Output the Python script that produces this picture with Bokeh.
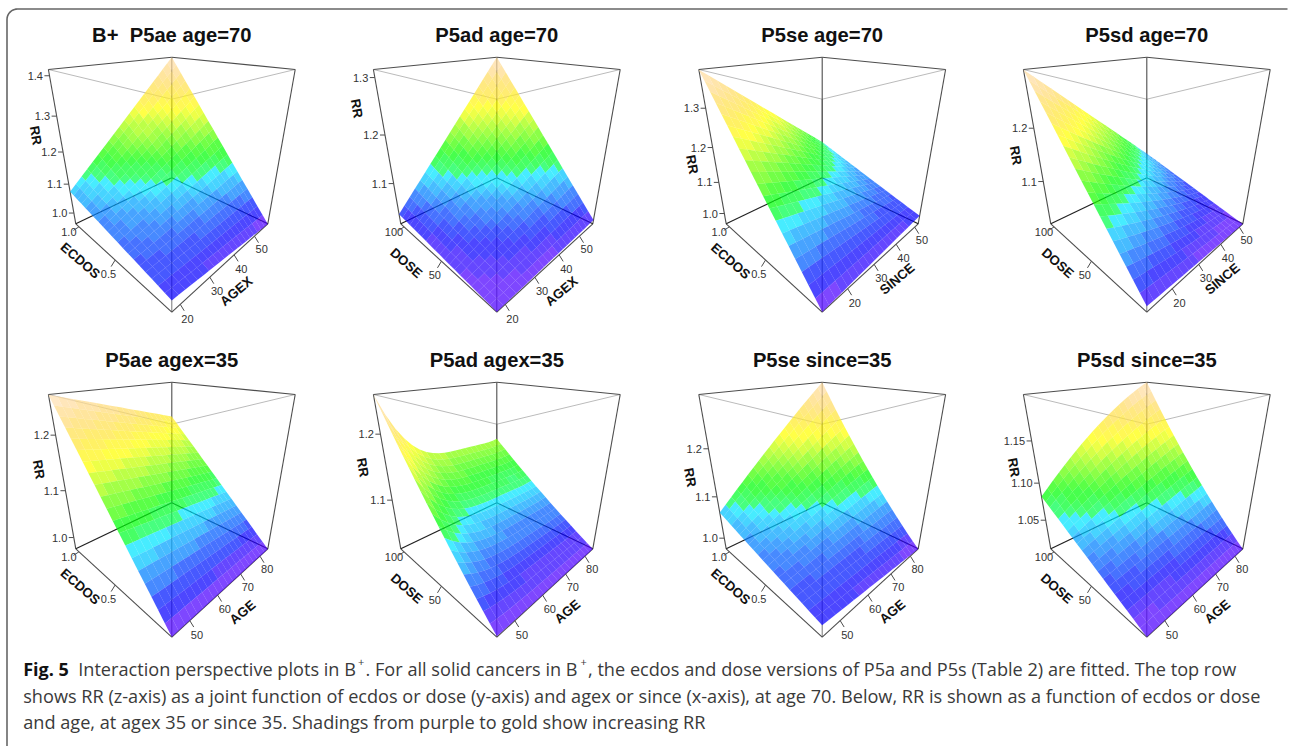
import colorsys
import numpy as np
from bokeh.plotting import figure
from bokeh.models import Range1d, ColumnDataSource
from bokeh.core.properties import value
from bokeh.embed import file_html
from bokeh.resources import INLINE

# ---- chart values ----
TITLES = ["B+\u00a0 P5ae age=70", "P5ad age=70", "P5se age=70", "P5sd age=70",
          "P5ae agex=35", "P5ad agex=35", "P5se since=35", "P5sd since=35"]
Y_NAMES = ["ECDOS", "DOSE", "ECDOS", "DOSE", "ECDOS", "DOSE", "ECDOS", "DOSE"]
X_NAMES = ["AGEX", "AGEX", "SINCE", "SINCE", "AGE", "AGE", "AGE", "AGE"]
RR_TICKS = [[1.0, 1.1, 1.2, 1.3, 1.4], [1.1, 1.2, 1.3], [1.0, 1.1, 1.2, 1.3], [1.1, 1.2],
            [1.0, 1.1, 1.2], [1.1, 1.2], [1.0, 1.1, 1.2], [1.05, 1.10, 1.15]]
RR_LIMITS = [(0.959, 1.414), (1.0028, 1.3124), (0.9634, 1.387), (1.006, 1.292),
             (0.9727, 1.2627), (1.010, 1.2507), (0.971, 1.296), (1.0062, 1.1978)]
X_TICKS = {"AGEX": [20, 30, 40, 50], "SINCE": [20, 30, 40, 50], "AGE": [50, 60, 70, 80]}
Y_TICKS = {"ECDOS": [0.5, 1.0], "DOSE": [50, 100]}
X_LIMITS = {"AGEX": (17.5, 57.5), "SINCE": (12, 52), "AGE": (44.5, 84.5)}
Y_LIMITS = {"ECDOS": (-0.05, 1.05), "DOSE": (-2, 105)}

# RR read at a few points of each surface: rows go along the y variable, columns along the x variable
AGEX_3 = [17.5, 37.5, 57.5]
SINCE_3 = [12, 32, 52]
AGE_3 = [44.5, 64.5, 84.5]
AGE_6 = [44.5, 49.5, 54.5, 64.5, 74.5, 84.5]
ECDOS_3 = [-0.05, 0.5, 1.05]
DOSE_3 = [-2, 51.5, 105]
RR_P5AE_AGE70 = [[0.9945, 0.977, 0.959], [1.035, 1.109, 1.186], [1.075, 1.244, 1.414]]
RR_P5AD_AGE70 = [[1.003, 1.008, 1.013], [1.0155, 1.0895, 1.1625], [1.028, 1.170, 1.3124]]
RR_P5SE_AGE70 = [[0.9634, 0.978, 0.992], [1.175, 1.112, 1.048], [1.387, 1.246, 1.105]]
RR_P5SD_AGE70 = [[1.017, 1.011, 1.006], [1.1546, 1.089, 1.039], [1.292, 1.182, 1.0717]]
RR_P5AE_AGEX35 = [[0.9727, 0.9727, 0.9727], [1.118, 1.100, 1.082], [1.2627, 1.2267, 1.1907]]
RR_P5AD_AGEX35 = [[1.011, 1.0105, 1.0103, 1.0102, 1.0101, 1.010],
                  [1.1231, 1.0966, 1.0822, 1.075, 1.0738, 1.075],
                  [1.2507, 1.1962, 1.1642, 1.1498, 1.1469, 1.1486]]
RR_P5SE_SINCE35 = [[0.9965, 0.984, 0.971], [1.0294, 1.075, 1.117], [1.0635, 1.185, 1.296]]
RR_P5SD_SINCE35 = [[1.0062, 1.0062, 1.0062], [1.0443, 1.0694, 1.0924], [1.0826, 1.1518, 1.1978]]
SURFACES = [(AGEX_3, ECDOS_3, RR_P5AE_AGE70), (AGEX_3, DOSE_3, RR_P5AD_AGE70),
            (SINCE_3, ECDOS_3, RR_P5SE_AGE70), (SINCE_3, DOSE_3, RR_P5SD_AGE70),
            (AGE_3, ECDOS_3, RR_P5AE_AGEX35), (AGE_6, DOSE_3, RR_P5AD_AGEX35),
            (AGE_3, ECDOS_3, RR_P5SE_SINCE35), (AGE_3, DOSE_3, RR_P5SD_SINCE35)]

# ---- page layout ----
CENTERS = [171.3, 496.3, 821.7, 1146.3]
ROW_SHIFT = 325
RR_LABEL_POS = [(-136, 135), (-140, 108), (-130, 164), (-131, 155),
                (-133, 144), (-134, 142), (-132, 152), (-133, 142)]
Y_LABEL_POS = [(-91.5, 260), (-90.5, 262.5), (-91.5, 260.5), (-89, 262.5),
               (-91.5, 261), (-90, 263), (-91.5, 261), (-90, 263)]
X_LABEL_POS = [(64.5, 290.7), (64.7, 290.7), (75, 278.3), (75.5, 278.3),
               (70.7, 286.7), (70.5, 286), (70.2, 286), (70.5, 286)]
N_CELLS = 20
N_COL = 30
SURF_ALPHA = 0.72
HELV = value("Liberation Sans")
CAP = value("Open Sans")
CAP_SIZE = 18.15

# camera: fitted to the eight corners of the drawn box
CUBE = [(0, 0, 0), (1, 0, 0), (0, 1, 0), (1, 1, 0), (0, 0, 1), (1, 0, 1), (0, 1, 1), (1, 1, 1)]
SCREEN = [(0, 311.7), (96, 223.3), (-96, 223.3), (0, 177.3), (0, 98.7), (123.4, 69), (-123.4, 69), (0, 56.7)]
A = []
for (a, b, c), (sx, sy) in zip(CUBE, SCREEN):
    A.append([a, b, c, 1, 0, 0, 0, 0, -sx * a, -sx * b, -sx * c, -sx])
    A.append([0, 0, 0, 0, a, b, c, 1, -sy * a, -sy * b, -sy * c, -sy])
M = np.linalg.svd(np.array(A, float))[2][-1].reshape(3, 4)


def proj(u, v, w):
    u, v, w = np.asarray(u, float), np.asarray(v, float), np.asarray(w, float)
    h = M[2, 0] * u + M[2, 1] * v + M[2, 2] * w + M[2, 3]
    return ((M[0, 0] * u + M[0, 1] * v + M[0, 2] * w + M[0, 3]) / h,
            (M[1, 0] * u + M[1, 1] * v + M[1, 2] * w + M[1, 3]) / h)


def topo(n):
    j = n // 3
    k = n // 3
    i = n - j - k
    out = []
    for q in range(i):
        out.append(colorsys.hsv_to_rgb((43 + (31 - 43) * q / max(i - 1, 1)) / 60, 1, 1))
    for q in range(j):
        out.append(colorsys.hsv_to_rgb((23 + (11 - 23) * q / max(j - 1, 1)) / 60, 1, 1))
    for q in range(k):
        f = q / max(k - 1, 1)
        out.append(colorsys.hsv_to_rgb((10 - 4 * f) / 60, 1 - 0.7 * f, 1))
    return ["#%02x%02x%02x" % tuple(int(round(c * 255)) for c in rgb) for rgb in out]


def smooth(knots, vals, at):
    # smooth curve through the values read at the knots, for drawing the cells of the mesh
    return np.polyval(np.polyfit(knots, vals, min(len(knots) - 1, 4)), at)


COLORS = topo(N_COL)

p = figure(width=1289, height=746, output_backend="svg", toolbar_location=None,
           x_range=Range1d(0, 1289), y_range=Range1d(746, 0), min_border=0)
p.axis.visible = False
p.grid.visible = False
p.outline_line_color = None

# outer frame with a rounded corner
ang = np.linspace(np.pi, 1.5 * np.pi, 12)
fx = [6.5] + list(17 + 10.5 * np.cos(ang)) + [1287]
fy = [746] + list(19 + 10.5 * np.sin(ang)) + [8.5]
p.line(fx, fy, line_color="#666666", line_width=1.6)


def text(x, y, s, size, font=HELV, color="#333333", style="normal", align="center", base="middle", angle=0):
    p.text([x], [y], text=[s], text_font=font, text_font_size=f"{size}px", text_color=color,
           text_font_style=style, text_align=align, text_baseline=base, angle=angle, angle_units="deg")


for idx in range(8):
    cx = CENTERS[idx % 4]
    cy = 0 if idx < 4 else ROW_SHIFT
    rmin, rmax = RR_LIMITS[idx]
    xname, yname = X_NAMES[idx], Y_NAMES[idx]
    xlim, ylim = X_LIMITS[xname], Y_LIMITS[yname]
    S = dict(zip(CUBE, SCREEN))

    def P(c):
        return S[c][0] + cx, S[c][1] + cy

    dark_edges = [((1, 1, 1), (0, 1, 1)), ((1, 1, 1), (1, 0, 1)), ((1, 1, 1), (1, 1, 0)),
                  ((0, 1, 1), (0, 1, 0)), ((1, 0, 1), (1, 0, 0)),
                  ((0, 0, 0), (1, 0, 0)), ((0, 0, 0), (0, 1, 0))]
    floor_edges = [((1, 1, 0), (0, 1, 0)), ((1, 1, 0), (1, 0, 0))]
    light_edges = [((0, 0, 1), (0, 1, 1)), ((0, 0, 1), (1, 0, 1))]
    mid_edges = [((0, 0, 1), (0, 0, 0))]
    for edges, col, wid in ((light_edges, "#bbbbbb", 1), (mid_edges, "#777777", 1),
                            (dark_edges, "#4d4d4d", 1.1), (floor_edges, "#222222", 1.2)):
        p.multi_line([[P(a)[0], P(b)[0]] for a, b in edges], [[P(a)[1], P(b)[1]] for a, b in edges],
                     line_color=col, line_width=wid)

    # surface
    xk, yk, rr = SURFACES[idx]
    rr = np.array(rr, float)
    us = np.linspace(0, 1, N_CELLS + 1)
    vs = np.linspace(0, 1, N_CELLS + 1)
    xv = xlim[0] + us * (xlim[1] - xlim[0])
    yv = ylim[0] + vs * (ylim[1] - ylim[0])
    by_x = np.array([smooth(xk, row, xv) for row in rr])
    z = np.array([smooth(yk, by_x[:, c], yv) for c in range(N_CELLS + 1)]).T  # z[v, u]
    w = (z - rmin) / (rmax - rmin)
    uu, vv = np.meshgrid(us, vs)
    sx, sy = proj(uu, vv, w)
    xs, ys, cols = [], [], []
    order = sorted(((a, b) for a in range(N_CELLS) for b in range(N_CELLS)), key=lambda t: -(t[0] + t[1]))
    for a, b in order:
        xs.append((sx[[a, a, a + 1, a + 1], [b, b + 1, b + 1, b]] + cx).tolist())
        ys.append((sy[[a, a, a + 1, a + 1], [b, b + 1, b + 1, b]] + cy).tolist())
        m = (w[a, b] + w[a, b + 1] + w[a + 1, b] + w[a + 1, b + 1]) / 4
        cols.append(COLORS[min(N_COL - 1, max(0, int(m * N_COL)))])
    p.patches("xs", "ys", source=ColumnDataSource(dict(xs=xs, ys=ys, c=cols)), fill_color="c",
              fill_alpha=SURF_ALPHA, line_color=None)

    # title
    text(cx, 34 + cy, TITLES[idx], 20.2, color="#111111", style="bold")

    # RR axis
    tx, ty = [], []
    for r in RR_TICKS[idx]:
        ex, ey = proj(0, 1, (r - rmin) / (rmax - rmin))
        ex, ey = float(ex) + cx, float(ey) + cy
        tx.append([ex, ex - 5])
        ty.append([ey, ey])
        text(ex - 6.5, ey, f"{r:.2f}" if idx == 7 else f"{r:.1f}", 11, align="right")
    # x axis
    for t in X_TICKS[xname]:
        u = (t - xlim[0]) / (xlim[1] - xlim[0])
        ex, ey = proj(u, 0, 0)
        ex, ey = float(ex) + cx, float(ey) + cy
        tx.append([ex, ex + 4])
        ty.append([ey, ey + 6.5])
        text(ex + 7.2, ey + 14.5 - 1.5 * u, str(t), 11)
    # y axis
    for t in Y_TICKS[yname]:
        v = (t - ylim[0]) / (ylim[1] - ylim[0])
        ex, ey = proj(0, v, 0)
        ex, ey = float(ex) + cx, float(ey) + cy
        k = (v - 0.5) / 0.45
        tx.append([ex, ex - 4 - 1.5 * k])
        ty.append([ey, ey + 6.5 - 3 * k])
        text(ex - 6.7 - 3.3 * k, ey + 13.7 - 8.7 * k, f"{t:.1f}" if yname == "ECDOS" else str(t), 11)
    p.multi_line(tx, ty, line_color="#4d4d4d", line_width=1)

    # axis names
    rx, ry = RR_LABEL_POS[idx]
    text(cx + rx, ry + cy, "RR", 13.3, color="#111111", style="bold", angle=-80)
    yx, yy = Y_LABEL_POS[idx]
    text(cx + yx, yy + cy, yname, 13.3, color="#111111", style="bold", angle=-41)
    xx, xy = X_LABEL_POS[idx]
    text(cx + xx, xy + cy, xname, 13.3, color="#111111", style="bold", angle=40)

# caption
LINE_Y = [668, 695, 721.5]
CAP_COL = "#3a3a3a"
cap_segments = [
    (22.7, 0, "Fig. 5", "bold"),
    (77.7, 0, "Interaction perspective plots in B", "normal"),
    (365, 0, ". For all solid cancers in B", "normal"),
    (587.5, 0, ", the ecdos and dose versions of P5a and P5s (Table 2) are fitted. The top row", "normal"),
    (22.7, 1, "shows RR (z-axis) as a joint function of ecdos or dose (y-axis) and agex or since (x-axis), at age 70. Below, RR is shown as a function of ecdos or dose", "normal"),
    (22.7, 2, "and age, at agex 35 or since 35. Shadings from purple to gold show increasing RR", "normal"),
]
for x0, ln, s, st in cap_segments:
    text(x0, LINE_Y[ln], s, 18 if st == "bold" else CAP_SIZE, font=CAP, color="#111111" if st == "bold" else CAP_COL,
         style=st, align="left", base="middle")
for x0 in (357.5, 580):
    text(x0, LINE_Y[0] - 7, "+", 11, font=CAP, color=CAP_COL, align="left", base="middle")

open("out.html", "w").write(file_html(p, INLINE))
